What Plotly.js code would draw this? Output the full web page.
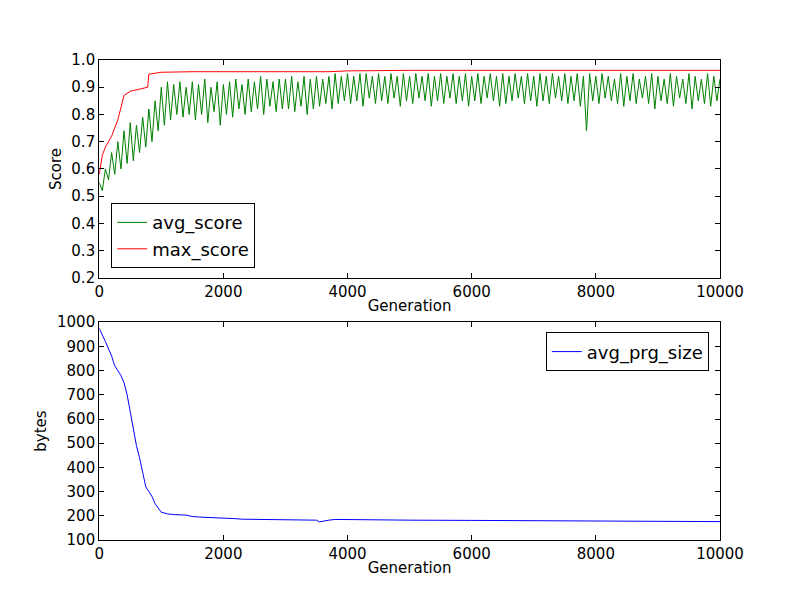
<!DOCTYPE html>
<html><head><meta charset="utf-8">
<script src="https://cdn.plot.ly/plotly-3.0.1.min.js"></script>
<style>body{margin:0}</style></head>
<body><div id="chart" style="width:800px;height:600px"></div>
<script>
const avgScore = [
0.55,0.52,0.60,0.56,0.66,0.58,0.70,0.60,0.74,0.62,
0.77,0.63,0.76,0.66,0.79,0.68,0.82,0.70,0.85,0.74,
0.90,0.76,0.92,0.78,0.91,0.80,0.92,0.79,0.90,0.80,
0.92,0.78,0.91,0.80,0.93,0.77,0.90,0.81,0.92,0.76,
0.91,0.80,0.92,0.79,0.93,0.82,0.91,0.80,0.93,0.81,
0.92,0.82,0.94,0.80,0.93,0.83,0.92,0.81,0.93,0.82,
0.93,0.82,0.94,0.81,0.92,0.83,0.94,0.80,0.93,0.82,
0.94,0.83,0.93,0.84,0.94,0.82,0.95,0.84,0.94,0.85,
0.95,0.84,0.94,0.85,0.95,0.83,0.95,0.86,0.94,0.84,
0.95,0.85,0.94,0.84,0.95,0.86,0.94,0.83,0.95,0.85,
0.94,0.84,0.95,0.86,0.94,0.85,0.95,0.83,0.94,0.85,
0.95,0.84,0.94,0.86,0.95,0.84,0.94,0.85,0.95,0.83,
0.94,0.85,0.95,0.84,0.94,0.86,0.95,0.85,0.94,0.83,
0.95,0.84,0.94,0.85,0.95,0.86,0.94,0.84,0.95,0.85,
0.94,0.83,0.95,0.85,0.94,0.84,0.95,0.86,0.94,0.85,
0.95,0.84,0.94,0.85,0.95,0.83,0.94,0.74,0.95,0.85,
0.94,0.84,0.95,0.86,0.94,0.85,0.93,0.84,0.95,0.83,
0.94,0.85,0.95,0.84,0.93,0.86,0.94,0.84,0.95,0.82,
0.94,0.85,0.93,0.84,0.95,0.83,0.94,0.86,0.93,0.84,
0.95,0.82,0.94,0.85,0.93,0.84,0.95,0.83,0.94,0.85,
0.93];
const avgGen = avgScore.map((_, i) => i * 50);

const maxGen = [0,50,100,200,300,350,400,500,600,700,780,800,1000,1500,2000,3000,3700,4000,5000,10000];
const maxScore = [0.58,0.65,0.68,0.72,0.78,0.83,0.87,0.885,0.89,0.895,0.9,0.948,0.955,0.957,0.957,0.957,0.957,0.96,0.962,0.962];

const sizeGen = [0,50,100,150,200,250,300,350,400,450,500,550,600,650,700,750,800,850,900,950,1000,1100,1200,1400,1500,1600,2000,2200,2300,2500,3000,3500,3550,3600,3700,3800,4000,4400,4500,5000,6000,6500,7000,8000,10000];
const sizeBytes = [975,950,920,890,860,820,800,780,750,700,630,560,490,440,380,320,300,280,250,230,215,208,205,203,197,195,192,188,186,185,183,182,175,178,182,185,185,185,183,182,181,180,179,177,176];

const font = {family: 'DejaVu Sans', size: 15, color: '#000'};
const axBase = {showline: true, mirror: 'ticks', linecolor: '#000', linewidth: 1,
  ticks: 'inside', ticklen: 5, tickcolor: '#000', showgrid: false, zeroline: false, tickfont: font};

const data = [
  {x: avgGen, y: avgScore, name: 'avg_score', mode: 'lines', line: {color: 'green', width: 1}, xaxis: 'x', yaxis: 'y', legend: 'legend'},
  {x: maxGen, y: maxScore, name: 'max_score', mode: 'lines', line: {color: 'red', width: 1}, xaxis: 'x', yaxis: 'y', legend: 'legend'},
  {x: sizeGen, y: sizeBytes, name: 'avg_prg_size', mode: 'lines', line: {color: 'blue', width: 1}, xaxis: 'x2', yaxis: 'y2', legend: 'legend2'}
];

const layout = {
  width: 800, height: 600, margin: {l: 0, r: 0, t: 0, b: 0},
  paper_bgcolor: '#fff', plot_bgcolor: '#fff', font: font,
  xaxis: Object.assign({}, axBase, {domain: [0.124, 0.9], range: [0, 10000], dtick: 2000, tickformat: 'd',
    title: {text: 'Generation', font: font, standoff: 0}, anchor: 'y'}),
  yaxis: Object.assign({}, axBase, {domain: [0.537, 0.9], range: [0.2, 1.0], dtick: 0.1, tickformat: '.1f',
    title: {text: 'Score', font: font, standoff: 6}, anchor: 'x'}),
  xaxis2: Object.assign({}, axBase, {domain: [0.124, 0.9], range: [0, 10000], dtick: 2000, tickformat: 'd',
    title: {text: 'Generation', font: font, standoff: 0}, anchor: 'y2'}),
  yaxis2: Object.assign({}, axBase, {domain: [0.1, 0.463], range: [100, 1000], dtick: 100,
    title: {text: 'bytes', font: font, standoff: 6}, anchor: 'x2'}),
  legend: {x: 0.139, y: 0.553, xanchor: 'left', yanchor: 'bottom', bordercolor: '#000', borderwidth: 1,
    bgcolor: '#fff', font: {family: 'DejaVu Sans', size: 18}},
  legend2: {x: 0.886, y: 0.446, xanchor: 'right', yanchor: 'top', bordercolor: '#000', borderwidth: 1,
    bgcolor: '#fff', font: {family: 'DejaVu Sans', size: 18}},
  showlegend: true
};

Plotly.newPlot('chart', data, layout, {displayModeBar: false});
</script></body></html>
